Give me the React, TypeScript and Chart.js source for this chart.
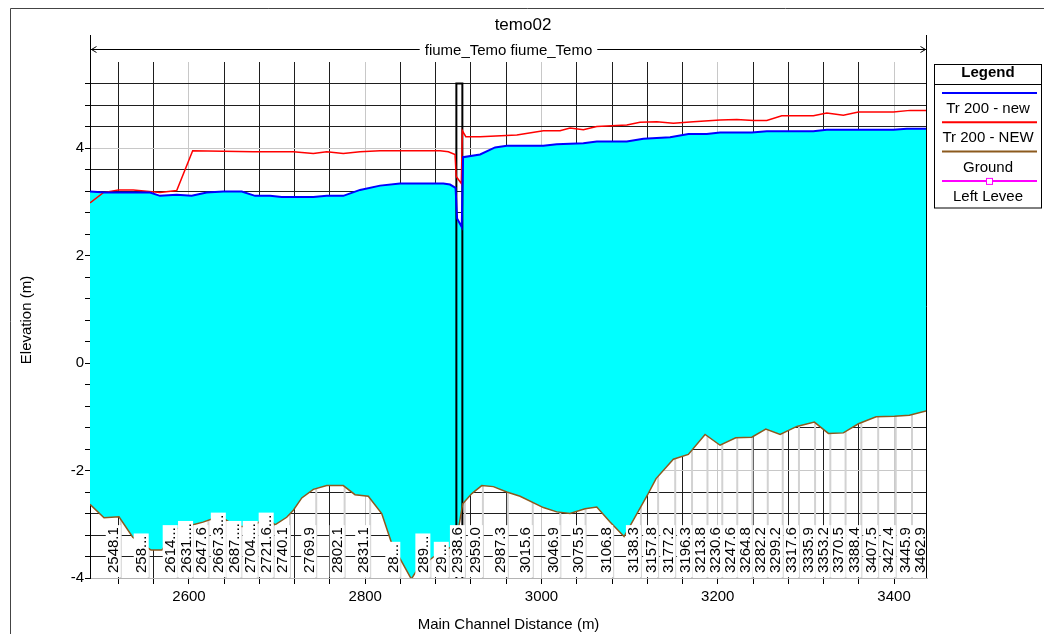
import React, { useEffect, useRef } from "react";
import { Chart, registerables } from "chart.js";

Chart.register(...registerables);

const FONT = 'Arial, "Liberation Sans", sans-serif';

// ---- Data (main channel distance in m, elevation in m) ----
const groundDist = [2487.7, 2503.6, 2520.6, 2536.2, 2556.9, 2569.4, 2586.4, 2604.6, 2615.9, 2635.2, 2653.4, 2671.5, 2688.6, 2697.6, 2710.9, 2718.4, 2728.0, 2741.1, 2756.3, 2775.1, 2788.4, 2803.5, 2818.7, 2830.1, 2852.3, 2858.4, 2877.3, 2894.0, 2902.5, 2910.6, 2920.9, 2932.2, 2945.4, 2960.6, 2975.7, 3002.1, 3017.3, 3032.4, 3049.4, 3062.7, 3077.8, 3093.7, 3120.1, 3130.0, 3149.6, 3166.6, 3185.6, 3202.6, 3220.4, 3238.6, 3254.5, 3270.8, 3289.7, 3309.6, 3325.5, 3342.5, 3359.6, 3379.7, 3400.4, 3417.4, 3437.4];
const groundElev = [-2.63, -2.88, -2.86, -3.24, -3.48, -3.48, -3.08, -3.01, -2.96, -2.85, -3.04, -3.04, -2.87, -3.01, -2.87, -2.74, -2.51, -2.35, -2.28, -2.28, -2.45, -2.48, -2.80, -3.36, -4.02, -3.86, -3.61, -3.45, -3.39, -2.62, -2.43, -2.28, -2.30, -2.40, -2.48, -2.69, -2.77, -2.80, -2.71, -2.68, -2.96, -3.23, -2.46, -2.15, -1.79, -1.70, -1.33, -1.53, -1.39, -1.38, -1.23, -1.33, -1.18, -1.10, -1.31, -1.30, -1.13, -1.00, -0.99, -0.97, -0.89];

const wsNewDist = [2487.7, 2504.7, 2555.8, 2567.1, 2586.1, 2603.1, 2620.1, 2639.0, 2659.9, 2675.0, 2692.0, 2705.2, 2741.1, 2756.3, 2775.1, 2794.1, 2816.8, 2839.5, 2888.6, 2896.2, 2902.5, 2904.2, 2909.5, 2911.0, 2930.3, 2947.3, 2960.6, 3002.1, 3017.3, 3047.5, 3062.7, 3096.8, 3115.6, 3145.9, 3166.7, 3187.5, 3202.6, 3238.6, 3255.6, 3308.5, 3323.7, 3399.3, 3414.5, 3437.4];
const wsNewElev = [3.19, 3.17, 3.17, 3.11, 3.13, 3.11, 3.17, 3.19, 3.19, 3.11, 3.11, 3.09, 3.09, 3.11, 3.11, 3.22, 3.30, 3.34, 3.34, 3.32, 3.26, 2.69, 2.53, 3.83, 3.88, 4.01, 4.04, 4.04, 4.07, 4.09, 4.12, 4.12, 4.17, 4.20, 4.26, 4.26, 4.29, 4.29, 4.31, 4.31, 4.34, 4.34, 4.36, 4.36];

const wsNEWDist = [2487.7, 2502.8, 2519.8, 2536.8, 2567.1, 2586.1, 2604.2, 2673.0, 2718.4, 2741.1, 2756.3, 2775.1, 2794.1, 2816.8, 2884.9, 2894.3, 2901.9, 2903.2, 2909.0, 2910.2, 2914.1, 2930.3, 2972.0, 3002.1, 3021.0, 3032.4, 3047.5, 3062.7, 3096.8, 3111.8, 3130.8, 3149.6, 3172.3, 3202.6, 3221.6, 3240.4, 3255.6, 3272.6, 3308.5, 3323.7, 3342.5, 3359.6, 3399.3, 3418.2, 3437.4];
const wsNEWElev = [2.98, 3.17, 3.22, 3.22, 3.17, 3.21, 3.95, 3.93, 3.93, 3.90, 3.93, 3.90, 3.93, 3.95, 3.95, 3.93, 3.88, 3.47, 3.34, 4.32, 4.21, 4.21, 4.24, 4.32, 4.32, 4.37, 4.34, 4.40, 4.43, 4.48, 4.49, 4.46, 4.49, 4.52, 4.53, 4.51, 4.51, 4.60, 4.60, 4.65, 4.61, 4.67, 4.67, 4.70, 4.70];

const leftLeveeDist: number[] = [];
const leftLeveeElev: number[] = [];

const stationLabels = ["2548.1", "258...", "2614...", "2631....", "2647.6", "2667.3...", "2687....", "2704....", "2721.6...", "2740.1", "2769.9", "2802.1", "2831.1", "28...", "289...", "29...", "2938.6", "2959.0", "2987.3", "3015.6", "3046.9", "3075.5", "3106.8", "3138.3", "3157.8", "3177.2", "3196.3", "3213.8", "3230.6", "3247.6", "3264.8", "3282.2", "3299.2", "3317.6", "3335.9", "3353.2", "3370.5", "3388.4", "3407.5", "3427.4", "3445.9", "3462.9"];
const stationDist = [2522.6, 2554.3, 2587.2, 2604.6, 2622.1, 2641.8, 2659.5, 2678.0, 2696.1, 2714.6, 2744.4, 2776.6, 2805.6, 2839.8, 2873.9, 2894.8, 2913.1, 2933.5, 2961.8, 2990.1, 3021.4, 3050.0, 3081.3, 3112.8, 3132.3, 3151.7, 3170.8, 3188.3, 3205.1, 3222.1, 3239.3, 3256.7, 3273.7, 3292.1, 3310.4, 3327.7, 3345.0, 3362.9, 3382.0, 3401.9, 3420.4, 3437.4];

const bridgeDist = [2903.4, 2910.2];
const bridgeTop = 5.2;

const xMin = 2487.7;
const xMax = 3437.4;
const yMin = -4;
const yMax = 5.6;

const titleText = "temo02";
const reachText = "fiume_Temo fiume_Temo";
const xTitle = "Main Channel Distance (m)";
const yTitle = "Elevation (m)";

function isMult(v: number, m: number) {
  return Math.abs(v / m - Math.round(v / m)) < 1e-6;
}

function interp(xs: number[], ys: number[], v: number) {
  if (v <= xs[0]) return ys[0];
  for (let i = 1; i < xs.length; i++) {
    if (v <= xs[i]) {
      const t = (v - xs[i - 1]) / (xs[i] - xs[i - 1]);
      return ys[i - 1] + t * (ys[i] - ys[i - 1]);
    }
  }
  return ys[ys.length - 1];
}

const toPts = (xs: number[], ys: number[]) => xs.map((x, i) => ({ x, y: ys[i] }));

const profilePlugin = {
  id: "profileExtras",
  beforeDatasetsDraw(chart: any) {
    const { ctx, chartArea: a, scales } = chart;
    const xs = scales.x;
    const ys = scales.y;
    ctx.save();
    ctx.beginPath();
    ctx.rect(a.left, a.top, a.right - a.left, a.bottom - a.top);
    ctx.clip();
    // cross-section location lines
    ctx.strokeStyle = "#d2d2d2";
    ctx.lineWidth = 2;
    stationDist.forEach((d) => {
      const px = xs.getPixelForValue(d);
      const gy = ys.getPixelForValue(interp(groundDist, groundElev, d));
      ctx.beginPath();
      ctx.moveTo(px, a.bottom);
      ctx.lineTo(px, gy);
      ctx.stroke();
    });
    // water fill between WS and ground
    ctx.fillStyle = "#00ffff";
    ctx.beginPath();
    wsNewDist.forEach((d, i) => {
      const px = xs.getPixelForValue(d);
      const py = ys.getPixelForValue(wsNewElev[i]);
      if (i === 0) ctx.moveTo(px, py);
      else ctx.lineTo(px, py);
    });
    for (let i = groundDist.length - 1; i >= 0; i--) {
      ctx.lineTo(xs.getPixelForValue(groundDist[i]), ys.getPixelForValue(groundElev[i]));
    }
    ctx.closePath();
    ctx.fill();
    // bridge
    const bx1 = xs.getPixelForValue(bridgeDist[0]);
    const bx2 = xs.getPixelForValue(bridgeDist[1]);
    const bt = ys.getPixelForValue(bridgeTop);
    ctx.strokeStyle = "#000";
    ctx.lineWidth = 2;
    ctx.beginPath();
    ctx.moveTo(bx1, a.bottom);
    ctx.lineTo(bx1, bt);
    ctx.lineTo(bx2, bt);
    ctx.lineTo(bx2, a.bottom);
    ctx.stroke();
    ctx.restore();
  },
  afterDatasetsDraw(chart: any) {
    const { ctx, chartArea: a, scales } = chart;
    const xs = scales.x;
    ctx.save();
    ctx.font = `15px ${FONT}`;
    const bottom = a.bottom - 1;
    stationLabels.forEach((t, i) => {
      const px = xs.getPixelForValue(stationDist[i]);
      const w = ctx.measureText(t).width;
      ctx.fillStyle = "#fff";
      ctx.fillRect(px - 15, bottom - 4 - w - 2, 15, w + 6);
      ctx.save();
      ctx.translate(px - 2.5, bottom - 4);
      ctx.rotate(-Math.PI / 2);
      ctx.fillStyle = "#000";
      ctx.textAlign = "left";
      ctx.textBaseline = "alphabetic";
      ctx.fillText(t, 0, 0);
      ctx.restore();
    });
    ctx.restore();
  },
  afterDraw(chart: any) {
    const { ctx, chartArea: a } = chart;
    const L = Math.round(a.left) + 0.5;
    const R = Math.round(a.right) - 0.5;
    ctx.save();
    // outer frame
    ctx.strokeStyle = "#444";
    ctx.lineWidth = 1;
    ctx.beginPath();
    ctx.moveTo(10.5, 634);
    ctx.lineTo(10.5, 8.5);
    ctx.lineTo(1044, 8.5);
    ctx.stroke();
    // title
    ctx.fillStyle = "#000";
    ctx.font = `17px ${FONT}`;
    ctx.textAlign = "center";
    ctx.textBaseline = "alphabetic";
    ctx.fillText(titleText, 523, 30);
    // reach extent lines
    ctx.strokeStyle = "#000";
    ctx.lineWidth = 1;
    ctx.beginPath();
    ctx.moveTo(L, 35);
    ctx.lineTo(L, a.top);
    ctx.moveTo(R, 35);
    ctx.lineTo(R, a.bottom);
    ctx.stroke();
    ctx.font = `15px ${FONT}`;
    const cx = (a.left + a.right) / 2;
    const tw = ctx.measureText(reachText).width;
    ctx.fillText(reachText, cx, 55);
    const ay = 49.5;
    ctx.beginPath();
    ctx.moveTo(L, ay);
    ctx.lineTo(cx - tw / 2 - 5, ay);
    ctx.moveTo(cx + tw / 2 + 5, ay);
    ctx.lineTo(R, ay);
    ctx.moveTo(L + 6, ay - 3);
    ctx.lineTo(L + 1, ay);
    ctx.lineTo(L + 6, ay + 3);
    ctx.moveTo(R - 6, ay - 3);
    ctx.lineTo(R - 1, ay);
    ctx.lineTo(R - 6, ay + 3);
    ctx.stroke();
    // axis titles
    ctx.textBaseline = "middle";
    ctx.fillText(xTitle, cx, 625);
    ctx.save();
    ctx.translate(27, (a.top + a.bottom) / 2);
    ctx.rotate(-Math.PI / 2);
    ctx.fillText(yTitle, 0, 0);
    ctx.restore();
    // legend
    ctx.strokeStyle = "#000";
    ctx.lineWidth = 1;
    ctx.strokeRect(934.5, 64.5, 107, 143.5);
    ctx.beginPath();
    ctx.moveTo(934.5, 84.5);
    ctx.lineTo(1041.5, 84.5);
    ctx.stroke();
    ctx.textBaseline = "alphabetic";
    ctx.font = `bold 15px ${FONT}`;
    ctx.fillText("Legend", 988, 77);
    ctx.font = `15px ${FONT}`;
    const ds = chart.data.datasets;
    ds.forEach((d: any, i: number) => {
      const ly = 93 + i * 29.3;
      ctx.strokeStyle = d.borderColor;
      ctx.lineWidth = 2;
      ctx.beginPath();
      ctx.moveTo(942, ly);
      ctx.lineTo(1037, ly);
      ctx.stroke();
      if (d.legendMarker) {
        ctx.lineWidth = 1;
        ctx.fillStyle = "#fff";
        ctx.fillRect(986.5, ly - 2.5, 6, 6);
        ctx.strokeRect(986.5, ly - 2.5, 6, 6);
      }
      ctx.fillStyle = "#000";
      ctx.fillText(d.label, 988, ly + 20);
    });
    ctx.restore();
  },
};

export default function App() {
  const ref = useRef<HTMLCanvasElement | null>(null);
  useEffect(() => {
    if (!ref.current) return;
    const chart = new Chart(ref.current, {
      type: "line",
      data: {
        datasets: [
          { label: "Tr 200 - new", data: toPts(wsNewDist, wsNewElev), borderColor: "#0000ff", borderWidth: 2, pointRadius: 0, tension: 0, fill: false },
          { label: "Tr 200 - NEW", data: toPts(wsNEWDist, wsNEWElev), borderColor: "#ff0000", borderWidth: 1.5, pointRadius: 0, tension: 0, fill: false },
          { label: "Ground", data: toPts(groundDist, groundElev), borderColor: "#8c5a1e", borderWidth: 1.5, pointRadius: 0, tension: 0, fill: false },
          { label: "Left Levee", data: toPts(leftLeveeDist, leftLeveeElev), borderColor: "#ff00ff", borderWidth: 1.5, pointRadius: 3, pointStyle: "rect", tension: 0, fill: false, legendMarker: true } as any,
        ],
      },
      options: {
        animation: false,
        responsive: false,
        devicePixelRatio: 1,
        events: [],
        layout: { padding: { left: 0, right: 117, top: 62, bottom: 0 } },
        plugins: { legend: { display: false }, title: { display: false }, tooltip: { enabled: false } },
        scales: {
          x: {
            type: "linear",
            min: xMin,
            max: xMax,
            afterFit: (s: any) => { s.height = 56; },
            ticks: {
              stepSize: 40,
              includeBounds: false,
              autoSkip: false,
              maxRotation: 0,
              padding: 4,
              color: "#000",
              font: { family: FONT, size: 15 },
              callback: (v: any) => (isMult(Number(v), 200) ? String(Math.round(Number(v))) : ""),
            },
            grid: {
              color: (c: any) => (isMult(c.tick.value, 200) ? "#c8c8c8" : "#1e1e1e"),
              tickColor: "#000",
              tickLength: 6,
              lineWidth: 1,
            },
            border: { display: true, color: "#b4b4b4", width: 1 },
          },
          y: {
            type: "linear",
            min: yMin,
            max: yMax,
            afterFit: (s: any) => { s.width = 90; },
            ticks: {
              stepSize: 0.4,
              includeBounds: false,
              autoSkip: false,
              padding: 1,
              color: "#000",
              font: { family: FONT, size: 15 },
              callback: (v: any) => (isMult(Number(v), 2) ? String(Math.round(Number(v))) : ""),
            },
            grid: {
              color: (c: any) => (c.tick.value > 5.5 ? "rgba(0,0,0,0)" : isMult(c.tick.value, 2) ? "#c8c8c8" : "#1e1e1e"),
              tickColor: (c: any) => (c.tick.value > 5.5 ? "rgba(0,0,0,0)" : "#000"),
              tickLength: 5,
              lineWidth: 1,
            },
            border: { display: true, color: "#000", width: 1 },
          },
        },
      } as any,
      plugins: [profilePlugin],
    });
    return () => chart.destroy();
  }, []);
  return (
    <div style={{ position: "fixed", left: 0, top: 0, width: 1044, height: 634, background: "#fff" }}>
      <canvas ref={ref} width={1044} height={634} style={{ display: "block", width: 1044, height: 634 }} />
    </div>
  );
}
